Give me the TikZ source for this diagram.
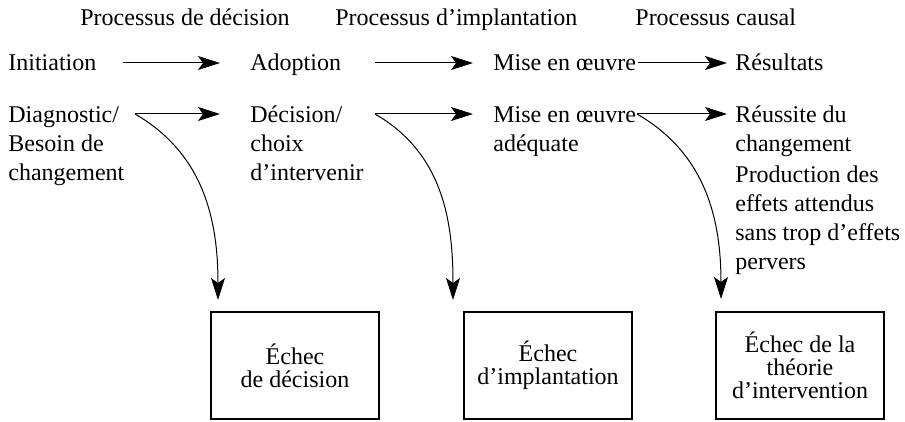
\documentclass[tikz,border=0pt]{standalone}
\usepackage{fontspec}
\setmainfont{Liberation Serif}
\usetikzlibrary{arrows.meta}

% lignes empilees, ligne de base sur la premiere ligne
\newcommand{\lignes}[1]{\begin{tabular}[t]{@{}l@{}}#1\end{tabular}}

\begin{document}
\begin{tikzpicture}[x=0.5pt,y=-0.5pt,
    txt/.style={anchor=base west,inner sep=0pt,font=\fontsize{12}{14.5}\selectfont},
    echec/.style={draw,line width=0.6pt,minimum width=84pt,minimum height=53.5pt,align=center,font=\fontsize{12}{11.5}\selectfont},
    flow/.style={-{Stealth[length=11pt,width=7pt,inset=2.5pt]},line width=0.5pt}]
    \useasboundingbox (0,0) rectangle (905,422);

    \node[txt] (hdec) at (80,26) {Processus de décision};
    \node[txt] (himp) at (335,26) {Processus d'implantation};
    \node[txt] (hcau) at (635,26) {Processus causal};

    \node[txt] (init) at (8,71) {Initiation};
    \node[txt] (adop) at (250,71) {Adoption};
    \node[txt] (mise) at (493,71) {Mise en œuvre};
    \node[txt] (resu) at (735,71) {Résultats};

    \node[txt] (diag) at (8,123) {\lignes{Diagnostic/\\Besoin de\\changement}};
    \node[txt] (dec) at (250,123) {\lignes{Décision/\\choix\\d'intervenir}};
    \node[txt] (mise2) at (493,123) {\lignes{Mise en œuvre\\adéquate}};
    \node[txt] (reus) at (735,123) {\lignes{Réussite du\\changement}};
    \node[txt] (prod) at (735,183) {\lignes{Production des\\effets attendus\\sans trop d'effets\\pervers}};

    \node[echec] (e1) at (295,365.5) {Échec\\de décision};
    \node[echec] (e2) at (548,365.5) {Échec\\d'implantation};
    \node[echec] (e3) at (800,365.5) {Échec de la\\théorie\\d'intervention};

    \coordinate (t1) at (218,300);
    \coordinate (t2) at (453,300);
    \coordinate (t3) at (721,299);

    \draw[flow,shorten <=13pt,shorten >=15pt] ([yshift=4pt]init.base east) -- ([yshift=4pt]adop.base west);
    \draw[flow,shorten <=17pt,shorten >=10pt] ([yshift=4pt]adop.base east) -- ([yshift=4pt]mise.base west);
    \draw[flow,shorten <=1pt,shorten >=4pt] ([yshift=4pt]mise.base east) -- ([yshift=4pt]resu.base west);

    \draw[flow,shorten >=15pt] ([shift={(63.5pt,4.5pt)}]diag.base west) -- ([yshift=4.5pt]dec.base west);
    \draw[flow,shorten >=10pt] ([shift={(62.5pt,4.5pt)}]dec.base west) -- ([yshift=4.5pt]mise2.base west);
    \draw[flow,shorten >=4pt] ([shift={(72pt,4.5pt)}]mise2.base west) -- ([yshift=4.5pt]reus.base west);

    \draw[flow] ([shift={(63.5pt,4.5pt)}]diag.base west) to[out=-30,in=90] (t1);
    \draw[flow] ([shift={(62.5pt,4.5pt)}]dec.base west) to[out=-30,in=90] (t2);
    \draw[flow] ([shift={(72pt,4.5pt)}]mise2.base west) to[out=-30,in=90] (t3);
\end{tikzpicture}
\end{document}
